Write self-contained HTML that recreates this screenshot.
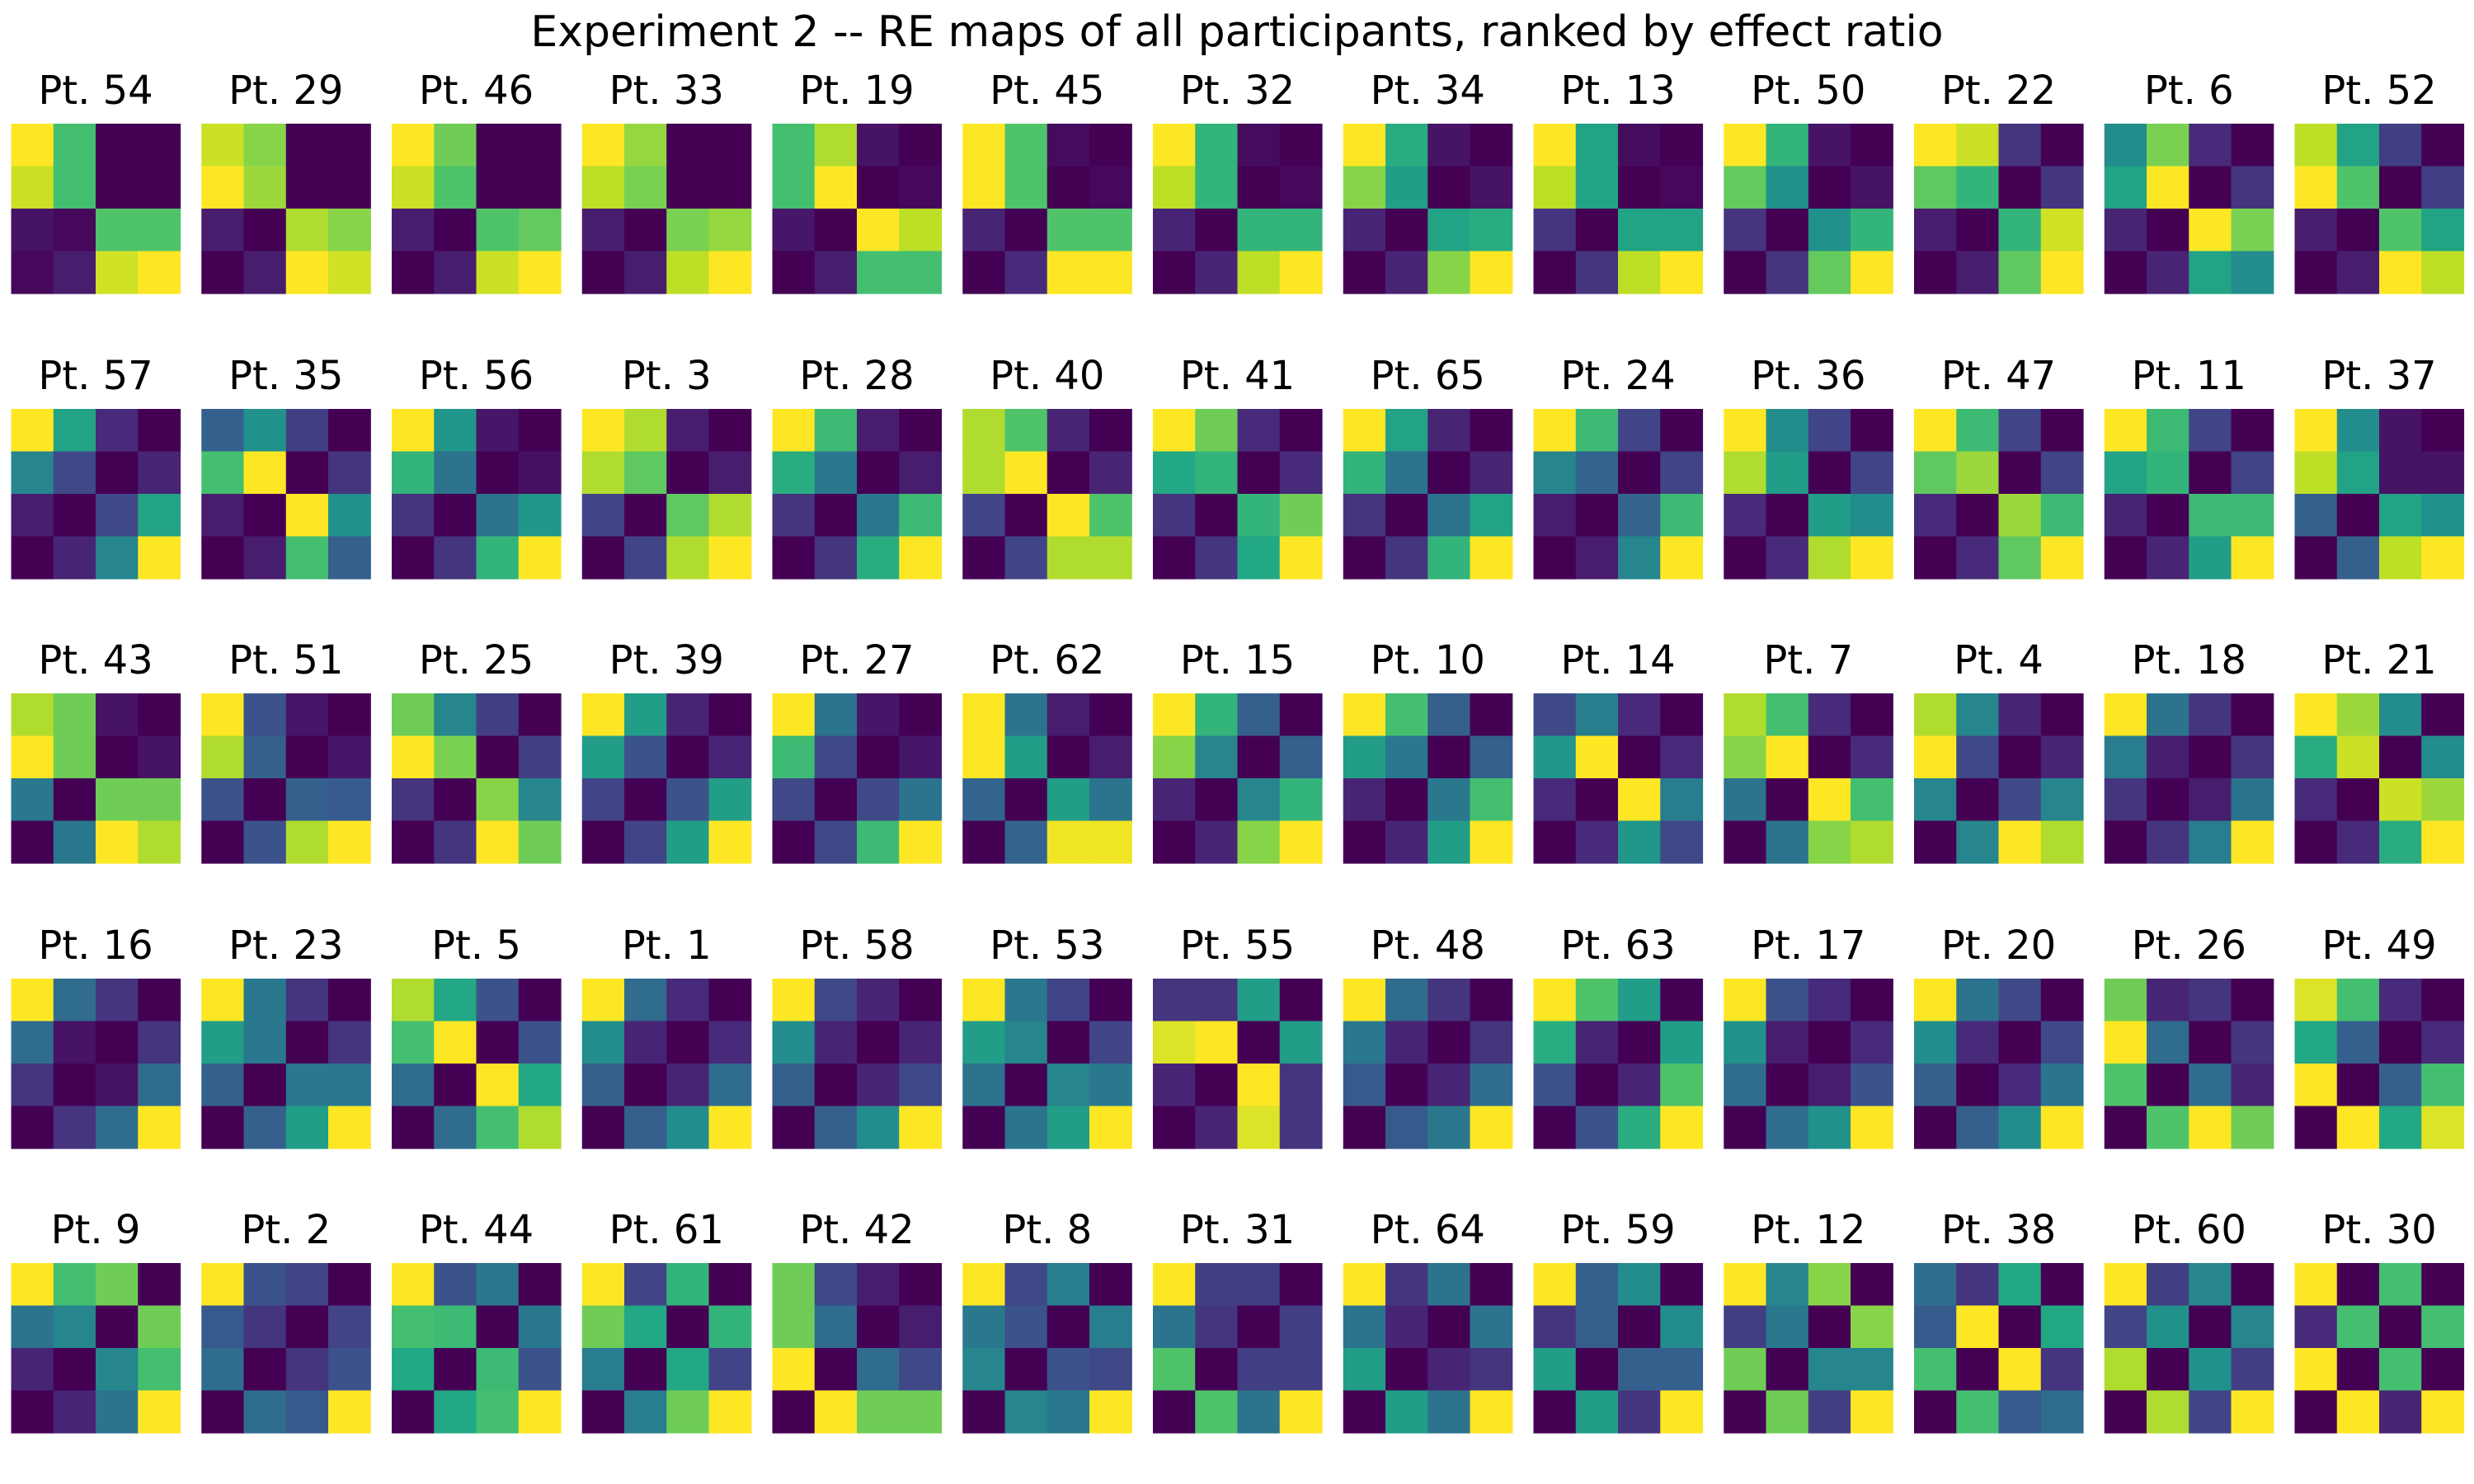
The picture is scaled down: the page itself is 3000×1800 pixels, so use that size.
<!DOCTYPE html>
<html><head><meta charset="utf-8">
<style>
html,body{margin:0;padding:0;background:#fff;}
svg{display:block;font-family:"DejaVu Sans","Liberation Sans",sans-serif;}
</style></head>
<body>
<svg id="fig" width="3000" height="1800" viewBox="0 0 3000 1800" xmlns="http://www.w3.org/2000/svg">
<rect x="0" y="0" width="3000" height="1800" fill="#fff"/>
<text x="1500" y="56" font-size="52" text-anchor="middle" fill="#000">Experiment 2 -- RE maps of all participants, ranked by effect ratio</text>
<g id="panels"></g>
</svg>
<script>
const participants = [54,29,46,33,19,45,32,34,13,50,22,6,52,
57,35,56,3,28,40,41,65,24,36,47,11,37,
43,51,25,39,27,62,15,10,14,7,4,18,21,
16,23,5,1,58,53,55,48,63,17,20,26,49,
9,2,44,61,42,8,31,64,59,12,38,60,30];
const reMaps = [
[1,.7,0,0, .92,.7,0,0, .05,.02,.72,.72, .02,.08,.93,1],
[.92,.82,0,0, 1,.85,0,0, .08,0,.88,.82, 0,.08,1,.93],
[1,.78,0,0, .92,.72,0,0, .08,0,.72,.76, 0,.08,.92,1],
[1,.84,0,0, .9,.8,0,0, .08,0,.8,.84, 0,.08,.9,1],
[.7,.88,.05,0, .7,1,0,.02, .06,0,1,.9, 0,.08,.7,.7],
[1,.72,.03,0, 1,.72,0,.02, .1,0,.72,.72, 0,.12,1,1],
[1,.65,.03,0, .9,.65,0,.02, .1,0,.65,.65, 0,.1,.9,1],
[1,.62,.05,0, .82,.55,0,.05, .1,0,.58,.62, 0,.1,.82,1],
[1,.58,.03,0, .9,.58,0,.02, .15,0,.58,.58, 0,.15,.9,1],
[1,.65,.05,0, .76,.5,0,.05, .15,0,.5,.65, 0,.15,.76,1],
[1,.92,.15,0, .75,.65,0,.15, .08,0,.65,.93, 0,.08,.75,1],
[.48,.8,.12,0, .58,1,0,.15, .1,0,1,.8, 0,.1,.58,.48],
[.9,.58,.18,0, 1,.72,0,.18, .08,0,.72,.58, 0,.08,1,.9],
[1,.58,.12,0, .45,.22,0,.1, .08,0,.22,.58, 0,.1,.45,1],
[.3,.5,.18,0, .7,1,0,.15, .08,0,1,.5, 0,.08,.7,.3],
[1,.52,.06,0, .65,.38,0,.04, .15,0,.38,.52, 0,.15,.65,1],
[1,.88,.08,0, .88,.75,0,.08, .2,0,.75,.88, 0,.2,.88,1],
[1,.68,.08,0, .62,.4,0,.08, .15,0,.4,.68, 0,.15,.62,1],
[.88,.72,.1,0, .88,1,0,.1, .2,0,1,.72, 0,.2,.88,.88],
[1,.78,.12,0, .6,.65,0,.12, .15,0,.65,.78, 0,.15,.6,1],
[1,.58,.1,0, .65,.38,0,.1, .15,0,.38,.58, 0,.15,.65,1],
[1,.68,.2,0, .45,.32,0,.2, .08,0,.32,.68, 0,.08,.45,1],
[1,.48,.2,0, .88,.55,0,.2, .12,0,.55,.48, 0,.12,.88,1],
[1,.68,.2,0, .75,.85,0,.2, .12,0,.85,.68, 0,.12,.75,1],
[1,.68,.2,0, .58,.65,0,.2, .1,0,.68,.68, 0,.1,.55,1],
[1,.48,.05,0, .9,.58,.05,.05, .3,0,.58,.5, 0,.3,.9,1],
[.88,.78,.05,0, 1,.78,0,.05, .4,0,.78,.78, 0,.4,1,.88],
[1,.25,.06,0, .88,.3,0,.06, .25,0,.3,.28, 0,.25,.88,1],
[.78,.45,.18,0, 1,.8,0,.18, .15,0,.82,.45, 0,.15,1,.78],
[1,.55,.1,0, .55,.25,0,.1, .2,0,.25,.55, 0,.2,.55,1],
[1,.38,.06,0, .68,.22,0,.06, .22,0,.22,.38, 0,.22,.68,1],
[1,.38,.08,0, 1,.55,0,.08, .32,0,.55,.38, 0,.32,.98,.98],
[1,.65,.3,0, .82,.45,0,.3, .1,0,.45,.65, 0,.1,.82,1],
[1,.7,.3,0, .55,.4,0,.3, .1,0,.4,.7, 0,.1,.55,1],
[.22,.42,.12,0, .52,1,0,.12, .12,0,1,.42, 0,.12,.52,.22],
[.88,.7,.12,0, .82,1,0,.12, .38,0,1,.7, 0,.38,.82,.88],
[.88,.45,.1,0, 1,.22,0,.1, .45,0,.22,.45, 0,.45,1,.88],
[1,.38,.15,0, .42,.08,0,.15, .15,0,.08,.38, 0,.15,.42,1],
[1,.85,.48,0, .62,.92,0,.48, .12,0,.92,.85, 0,.12,.62,1],
[1,.35,.15,0, .35,.05,0,.15, .15,0,.05,.35, 0,.15,.35,1],
[1,.4,.15,0, .55,.4,0,.15, .3,0,.4,.4, 0,.3,.55,1],
[.88,.6,.25,0, .7,1,0,.25, .35,0,1,.6, 0,.35,.7,.88],
[1,.35,.12,0, .48,.1,0,.12, .3,0,.1,.35, 0,.3,.48,1],
[1,.22,.1,0, .48,.1,0,.1, .3,0,.1,.22, 0,.3,.48,1],
[1,.4,.2,0, .55,.45,0,.2, .38,0,.45,.4, 0,.38,.55,1],
[.15,.15,.55,0, .95,1,0,.55, .1,0,1,.15, 0,.1,.95,.15],
[1,.35,.15,0, .4,.1,0,.15, .28,0,.1,.35, 0,.28,.4,1],
[1,.72,.55,0, .62,.1,0,.55, .25,0,.1,.72, 0,.25,.62,1],
[1,.25,.12,0, .5,.08,0,.12, .35,0,.08,.25, 0,.35,.5,1],
[1,.38,.22,0, .48,.12,0,.22, .3,0,.12,.38, 0,.3,.48,1],
[.78,.1,.15,0, 1,.35,0,.15, .72,0,.35,.1, 0,.72,1,.78],
[.95,.7,.12,0, .6,.3,0,.12, 1,0,.3,.7, 0,1,.6,.95],
[1,.7,.78,0, .38,.45,0,.78, .1,0,.45,.7, 0,.1,.38,1],
[1,.25,.2,0, .28,.15,0,.2, .35,0,.15,.25, 0,.35,.28,1],
[1,.25,.4,0, .7,.68,0,.4, .6,0,.68,.25, 0,.6,.7,1],
[1,.2,.65,0, .78,.6,0,.65, .42,0,.6,.2, 0,.42,.78,1],
[.78,.22,.08,0, .78,.35,0,.08, 1,0,.35,.22, 0,1,.78,.78],
[1,.22,.42,0, .4,.25,0,.42, .45,0,.25,.22, 0,.45,.4,1],
[1,.18,.18,0, .38,.15,0,.18, .72,0,.18,.18, 0,.72,.38,1],
[1,.15,.38,0, .38,.1,0,.38, .55,0,.1,.15, 0,.55,.38,1],
[1,.3,.48,0, .15,.3,0,.48, .55,0,.3,.3, 0,.55,.15,1],
[1,.45,.82,0, .18,.4,0,.82, .78,0,.45,.45, 0,.78,.18,1],
[.35,.15,.6,0, .28,1,0,.6, .7,0,1,.15, 0,.7,.28,.35],
[1,.18,.45,0, .2,.5,0,.45, .88,0,.5,.18, 0,.88,.2,1],
[1,0,.7,0, .12,.7,0,.7, 1,0,.7,0, 0,1,.1,1]
];

const VIR = ["#440154","#482475","#414487","#355f8d","#2a788e","#21918c","#22a884","#44bf70","#7ad151","#bddf26","#fde725"];
function hex(h){return [parseInt(h.slice(1,3),16),parseInt(h.slice(3,5),16),parseInt(h.slice(5,7),16)];}
function viridis(v){
  v=Math.max(0,Math.min(1,v));
  const p=v*10, i=Math.min(9,Math.floor(p)), t=p-i;
  const a=hex(VIR[i]), b=hex(VIR[i+1]);
  return "rgb("+a.map((c,k)=>Math.round(c+(b[k]-c)*t)).join(",")+")";
}
const COLS=13, X0=13.5, STEPX=230.75, W=205;
const ROWTOPS=[150,496,841,1187,1532], H=206;
function panelX(i){return X0+(i%COLS)*STEPX;}
function panelY(i){return ROWTOPS[Math.floor(i/COLS)];}
function cellX(i,c){return panelX(i)+c*W/4;}
function cellY(i,r){return panelY(i)+r*H/4;}

const NS="http://www.w3.org/2000/svg";
const root=document.getElementById("panels");
participants.forEach((p,i)=>{
  const g=document.createElementNS(NS,"g");
  
  
  const t=document.createElementNS(NS,"text");
  
  
  t.setAttribute("x",panelX(i)+W/2);
  t.setAttribute("y",panelY(i)-24);
  t.setAttribute("font-size","48");
  t.setAttribute("text-anchor","middle");
  t.textContent="Pt. "+p;
  g.appendChild(t);
  reMaps[i].forEach((v,k)=>{
    const r=Math.floor(k/4), c=k%4;
    const rc=document.createElementNS(NS,"rect");
    
    
    rc.setAttribute("x",cellX(i,c));
    rc.setAttribute("y",cellY(i,r));
    rc.setAttribute("width",W/4+0.6);
    rc.setAttribute("height",H/4+0.6);
    rc.setAttribute("fill",viridis(v));
    g.appendChild(rc);
  });
  root.appendChild(g);
});
</script>
</body></html>
